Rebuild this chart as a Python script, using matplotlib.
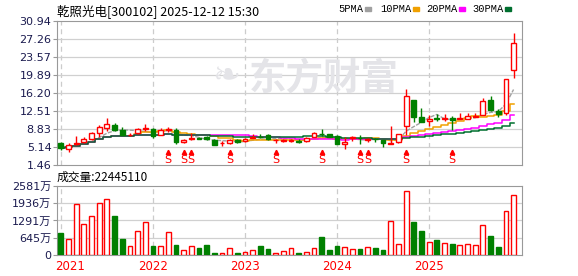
import matplotlib
matplotlib.use("Agg")
import matplotlib.pyplot as plt
import matplotlib.transforms as mtransforms
import numpy as np
import pandas as pd

plt.rcParams['font.family'] = ['DejaVu Sans', 'Noto Sans CJK SC']

# monthly K-line, Jan 2021 .. Dec 2025
opens = [5.90, 4.74, 5.70, 6.11, 6.86, 8.09, 8.98, 9.73, 8.57, 7.50, 7.96, 8.80,
         8.78, 7.55, 8.60, 8.71, 6.11, 6.75, 7.00, 7.10, 6.59, 5.90, 5.90, 6.66,
         6.31, 7.00, 7.20, 7.55, 6.50, 6.30, 6.40, 6.40, 6.30, 7.14, 7.85, 7.82,
         7.41, 5.70, 6.90, 7.00, 6.60, 6.80, 6.59, 5.85, 6.11, 9.53, 14.79, 11.31,
         10.42, 11.00, 10.80, 11.10, 10.90, 10.90, 11.30, 11.79, 14.79, 12.60, 12.06, 20.81]
highs = [6.25, 6.00, 7.34, 7.14, 8.30, 9.73, 11.10, 10.08, 9.26, 8.09, 9.12, 9.87,
         9.05, 9.12, 9.26, 9.12, 6.75, 8.10, 7.20, 7.30, 6.75, 6.31, 6.79, 6.86,
         7.00, 7.89, 7.82, 7.82, 6.73, 6.80, 6.70, 6.86, 7.20, 8.23, 8.85, 7.85,
         7.50, 7.27, 7.30, 7.60, 6.93, 7.00, 6.65, 9.50, 7.82, 17.05, 14.85, 13.15,
         11.72, 11.85, 11.92, 11.50, 12.10, 12.06, 12.06, 15.14, 15.61, 12.88, 19.03, 28.47]
lows = [4.54, 4.06, 5.65, 6.05, 6.59, 7.27, 8.50, 8.50, 7.50, 7.41, 7.85, 8.43,
        7.07, 7.50, 8.16, 5.70, 6.05, 6.60, 6.70, 6.60, 5.60, 5.36, 5.85, 5.90,
        6.25, 6.93, 6.99, 6.59, 6.00, 6.20, 6.20, 5.90, 6.20, 7.10, 7.41, 7.10,
        5.77, 4.67, 6.30, 5.70, 6.10, 6.10, 5.22, 5.70, 5.90, 7.61, 10.35, 10.30,
        9.46, 10.42, 10.50, 8.57, 10.85, 10.85, 11.20, 11.65, 12.60, 11.38, 11.72, 19.17]
closes = [4.88, 5.56, 5.90, 6.73, 8.02, 9.26, 9.87, 8.57, 7.55, 7.70, 8.78, 8.95,
          7.34, 8.71, 8.90, 6.25, 6.66, 6.95, 6.80, 6.80, 5.63, 6.00, 6.59, 6.11,
          6.86, 7.10, 7.10, 6.73, 6.60, 6.60, 6.50, 6.20, 7.00, 7.96, 7.75, 7.14,
          5.77, 6.25, 7.20, 6.90, 6.70, 6.70, 5.90, 6.00, 7.78, 15.55, 11.38, 10.35,
          10.90, 10.85, 11.00, 10.70, 11.00, 11.44, 11.50, 14.52, 12.67, 11.92, 19.03, 26.42]
# volume, in 万 shares
volumes = [835, 595, 1923, 1176, 1442, 1961, 2113, 1442, 607, 329, 911, 1240,
           342, 342, 873, 392, 190, 342, 266, 392, 89, 76, 266, 89,
           114, 190, 342, 240, 76, 152, 266, 89, 114, 253, 683, 190,
           342, 291, 215, 228, 291, 266, 190, 1278, 405, 2378, 1252, 911,
           481, 569, 455, 417, 380, 405, 380, 1139, 721, 304, 1657, 2244.511]
years = ["2021", "2022", "2023", "2024", "2025"]
year_start = [0, 12, 24, 36, 48]
s_marks = [14, 16, 17, 22, 28, 34, 39, 40, 45, 51]

price_ticks = [1.46, 5.14, 8.83, 12.51, 16.20, 19.89, 23.57, 27.26, 30.94]
vol_ticks = [0, 645, 1291, 1936, 2581]
vol_labels = ["0", "645万", "1291万", "1936万", "2581万"]

ma_periods = [5, 10, 20, 30]
ma_colors = ["#a0a0a0", "#f0a000", "#ff00ff", "#006f2f"]

RED = "#ff0000"
GREEN = "#008000"
LBL = "#1a1a4e"
GRID = "#d0d0d0"
FRAME = "#999999"

n = len(closes)
x = np.arange(n)
o = np.array(opens); h = np.array(highs); l = np.array(lows); c = np.array(closes)
up = c >= o
top = np.maximum(o, c)
bot = np.minimum(o, c)
cols = np.where(up, RED, GREEN)
faces = np.where(up, "white", GREEN)

fig = plt.figure(figsize=(5.78, 2.76), dpi=100)
ax = fig.add_axes([57 / 578, 1 - 165 / 276, 465 / 578, 144 / 276])
axv = fig.add_axes([57 / 578, 1 - 255 / 276, 465 / 578, 69 / 276])

for a in (ax, axv):
    a.set_xlim(-0.5, 60.1)
    for s in a.spines.values():
        s.set_color(FRAME)
    a.tick_params(axis="y", direction="out", length=3, color=FRAME, labelsize=8,
                  labelcolor=LBL, pad=1)
    a.tick_params(axis="x", length=0)
    a.set_xticks([])
    for xs in year_start:
        a.axvline(xs, color="#cccccc", lw=0.9, ls=(0, (4, 3)), zorder=0)

# price panel
ax.set_ylim(1.46, 30.94)
ax.set_yticks(price_ticks)
ax.set_yticklabels([f"{t:.2f}" for t in price_ticks])
for t in price_ticks[1:-1]:
    ax.axhline(t, color=GRID, lw=0.9, zorder=0)

# watermark
ax.text(0.413, 0.60, "东方财富", transform=ax.transAxes, ha="left", va="center",
        fontsize=27, fontweight="bold", color="#e4e4e8",
        family=["Noto Sans CJK SC", "DejaVu Sans"], zorder=0)
ax.text(0.335, 0.62, "❧", transform=ax.transAxes, ha="left", va="center",
        fontsize=24, color="#e4e4e8", zorder=0)

closes_s = pd.Series(closes)
for p, col in zip(ma_periods, ma_colors):
    ma = closes_s.rolling(p, min_periods=1).mean()
    if p == 5:
        ax.plot(x, ma, color=col, lw=1, ls=(0, (3, 1)), zorder=2)
    else:
        ax.plot(x, ma, color=col, lw=1.1, drawstyle="steps-mid", zorder=2)

w = 0.62
ax.vlines(x, top, h, colors=cols, lw=1, zorder=3)
ax.vlines(x, l, bot, colors=cols, lw=1, zorder=3)
ax.bar(x, np.maximum(top - bot, 0.06), bottom=bot, width=w, color=faces,
       edgecolor=cols, lw=1, zorder=4)

trans = mtransforms.blended_transform_factory(ax.transData, ax.transAxes)
for i in s_marks:
    ax.text(i, 0.0, "S", transform=trans, ha="center", va="bottom", color=RED,
            fontsize=8)
    ax.plot(i, 0.09, marker="^", ms=3.2, color=RED, transform=trans, clip_on=False)

# volume panel
axv.set_ylim(0, 2581)
axv.set_yticks(vol_ticks)
axv.set_yticklabels(vol_labels)
for t in vol_ticks[1:-1]:
    axv.axhline(t, color=GRID, lw=0.9, zorder=0)
axv.bar(x, volumes, width=w, color=faces, edgecolor=cols, lw=1, zorder=3)

vtrans = mtransforms.blended_transform_factory(axv.transData, axv.transAxes)
for yr, xs in zip(years, year_start):
    if xs == 0:
        axv.text(-0.75, -0.07, yr, transform=vtrans, ha="left", va="top",
                 color=RED, fontsize=8.5)
    else:
        axv.text(xs, -0.07, yr, transform=vtrans, ha="center", va="top",
                 color=RED, fontsize=8.5)

# header texts
cjk = ["Noto Sans CJK SC", "DejaVu Sans"]
fig.text(57 / 578, 1 - 11 / 276, "乾照光电[300102] 2025-12-12 15:30", ha="left",
         va="center", fontsize=9, family=cjk, color="black")
fig.text(57 / 578, 1 - 177 / 276, f"成交量:{round(volumes[-1] * 10000)}", ha="left",
         va="center", fontsize=8.5, family=cjk, color="black")

legend_x = [338, 380, 426, 472]
for lx, p in zip(legend_x, ma_periods):
    fig.text(lx / 578, 1 - 9 / 276, f"{p}PMA", ha="left", va="center",
             fontsize=7.5, color="black", family=["Liberation Mono", "DejaVu Sans Mono"])
rect_x = [365, 413, 459, 505]
for rx, col in zip(rect_x, ma_colors):
    fig.patches.append(plt.Rectangle((rx / 578, 1 - 11 / 276), 6 / 578, 4 / 276,
                                     transform=fig.transFigure, color=col))

fig.savefig("out.png", dpi=100)
